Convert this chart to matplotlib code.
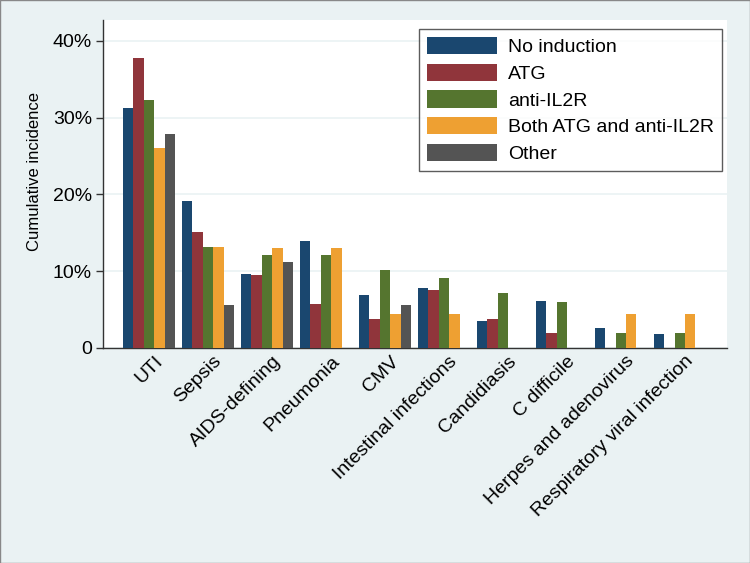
import matplotlib
matplotlib.use('Agg')
import matplotlib.pyplot as plt
from matplotlib.ticker import FuncFormatter
import matplotlib.transforms as mtransforms
import numpy as np

plt.rcParams['font.family'] = ['Liberation Sans', 'DejaVu Sans']

# infection categories (x axis)
categories = ['UTI', 'Sepsis', 'AIDS-defining', 'Pneumonia', 'CMV',
              'Intestinal infections', 'Candidiasis', 'C difficile',
              'Herpes and adenovirus', 'Respiratory viral infection']

# cumulative incidence (%) per induction group
no_induction = [31.3, 19.2, 9.6, 13.9, 6.9, 7.8, 3.5, 6.1, 2.6, 1.8]
atg          = [37.8, 15.1, 9.5, 5.7, 3.8, 7.6, 3.8, 1.9, 0, 0]
anti_il2r    = [32.3, 13.2, 12.1, 12.1, 10.1, 9.1, 7.1, 6.0, 2.0, 2.0]
both         = [26.1, 13.2, 13.0, 13.0, 4.4, 4.4, 0, 0, 4.4, 4.4]
other        = [27.8, 5.6, 11.2, 0, 5.6, 0, 0, 0, 0, 0]

series = [('No induction', no_induction, '#1a476f'),
          ('ATG', atg, '#90353b'),
          ('anti-IL2R', anti_il2r, '#55752f'),
          ('Both ATG and anti-IL2R', both, '#eea032'),
          ('Other', other, '#545454')]

bg = '#eaf2f3'
fig = plt.figure(figsize=(7.5, 5.63), dpi=100, facecolor=bg)
ax = fig.add_axes([103/750, 1-348/563, (727-103)/750, (348-20)/563])
ax.set_facecolor('white')

x = np.arange(len(categories))
w = 0.177
for i, (name, vals, col) in enumerate(series):
    ax.bar(x + (i - 2) * w, vals, width=w, color=col, label=name, zorder=3,
           linewidth=0)

ax.set_xlim(-0.78, 9.8)
ax.set_ylim(0, 42.7)
ax.set_yticks([0, 10, 20, 30, 40])
ax.yaxis.set_major_formatter(FuncFormatter(lambda v, p: '0' if v == 0 else '%d%%' % v))
ax.grid(axis='y', color=bg, linewidth=1.2, zorder=0)

ax.set_xticks(x)
ax.set_xticklabels(categories, rotation=45, ha='right', rotation_mode='anchor',
                   fontsize=14)
ax.tick_params(axis='x', length=0, pad=2)
# nudge the slanted labels a little to the right, as in the original
shift = mtransforms.ScaledTranslation(5/100, -2/100, fig.dpi_scale_trans)
for lab in ax.get_xticklabels():
    lab.set_transform(lab.get_transform() + shift)
ax.tick_params(axis='y', length=5, width=1, color='#333333', labelsize=14, pad=3)

for s in ['top', 'right']:
    ax.spines[s].set_visible(False)
for s in ['left', 'bottom']:
    ax.spines[s].set_color('#333333')
    ax.spines[s].set_linewidth(1)

ax.set_ylabel('Cumulative incidence', fontsize=12)
ax.yaxis.set_label_coords(-0.098, 0.537)

leg = ax.legend(loc='upper right', bbox_to_anchor=(722/750, 1-29/563),
                bbox_transform=fig.transFigure, fontsize=14, frameon=True,
                fancybox=False, edgecolor='#333333', handlelength=3.6,
                handleheight=1.0, handletextpad=0.6, labelspacing=0.38,
                borderpad=0.4, borderaxespad=0)
leg.get_frame().set_linewidth(1)

# thin border around the whole picture
fig.patches.append(plt.Rectangle((0, 0), 1, 1, transform=fig.transFigure,
                                 fill=False, edgecolor='#888888', linewidth=1))

fig.savefig('out.png', dpi=100, facecolor=bg)
